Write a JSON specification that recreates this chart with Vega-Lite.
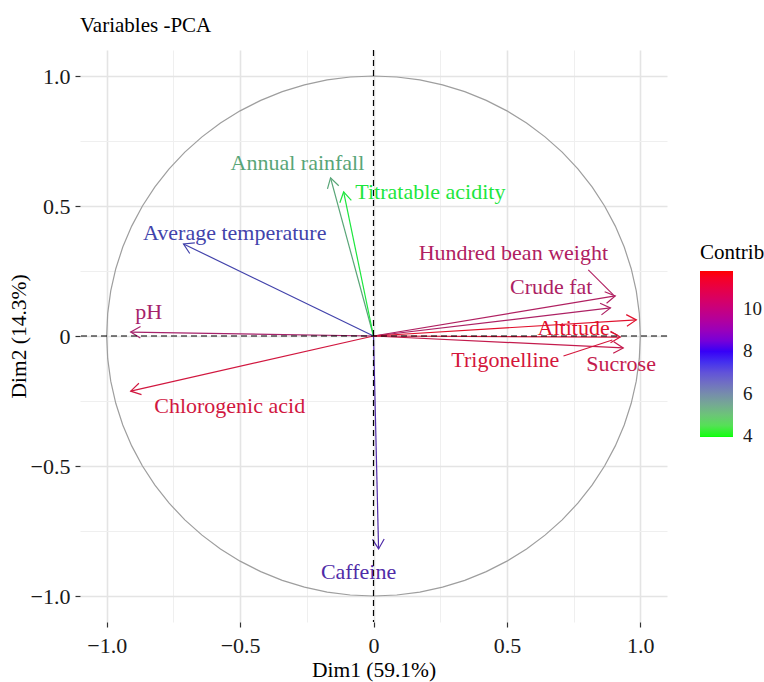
{
  "$schema": "https://vega.github.io/schema/vega-lite/v6.json",
  "width": 587,
  "height": 572,
  "autosize": {"type": "none"},
  "padding": {"left": 80, "top": 50, "right": 97, "bottom": 60},
  "background": "white",
  "config": {"view": {"stroke": null}, "font": "Liberation Serif"},
  "title": {"text": "Variables -PCA", "anchor": "start", "frame": "group", "offset": 13, "font": "Liberation Serif", "fontSize": 21, "fontWeight": "normal", "color": "#000000"},
  "datasets": {
    "vars": [
      {"name": "pH", "x": -0.910, "y": 0.015, "contrib": 10.0, "lx": -0.843, "ly": 0.092},
      {"name": "Chlorogenic acid", "x": -0.910, "y": -0.212, "contrib": 11.3, "lx": -0.539, "ly": -0.269},
      {"name": "Average temperature", "x": -0.712, "y": 0.354, "contrib": 7.4, "lx": -0.52, "ly": 0.396},
      {"name": "Annual rainfall", "x": -0.161, "y": 0.608, "contrib": 5.3, "lx": -0.285, "ly": 0.665},
      {"name": "Titratable acidity", "x": -0.112, "y": 0.554, "contrib": 3.95, "lx": 0.213, "ly": 0.554},
      {"name": "Caffeine", "x": 0.019, "y": -0.819, "contrib": 8.2, "lx": -0.056, "ly": -0.908},
      {"name": "Hundred bean weight", "x": 0.906, "y": 0.154, "contrib": 10.3, "lx": 0.524, "ly": 0.319, "sx": 0.805, "sy": 0.254, "ex": 0.899, "ey": 0.158},
      {"name": "Crude fat", "x": 0.888, "y": 0.108, "contrib": 10.2, "lx": 0.666, "ly": 0.188},
      {"name": "Altitude", "x": 0.985, "y": 0.062, "contrib": 11.8, "lx": 0.75, "ly": 0.031, "sx": 0.888, "sy": 0.015, "ex": 0.914, "ey": 0.004},
      {"name": "Trigonelline", "x": 0.925, "y": -0.004, "contrib": 11.4, "lx": 0.494, "ly": -0.092, "sx": 0.712, "sy": -0.077, "ex": 0.895, "ey": -0.015},
      {"name": "Sucrose", "x": 0.936, "y": -0.046, "contrib": 10.9, "lx": 0.928, "ly": -0.108}
    ],
    "circle": [
      {"a": 0, "cx": 1, "cy": 0}, {"a": 5, "cx": 0.9962, "cy": 0.0872}, {"a": 10, "cx": 0.9848, "cy": 0.1736}, {"a": 15, "cx": 0.9659, "cy": 0.2588},
      {"a": 20, "cx": 0.9397, "cy": 0.342}, {"a": 25, "cx": 0.9063, "cy": 0.4226}, {"a": 30, "cx": 0.866, "cy": 0.5}, {"a": 35, "cx": 0.8192, "cy": 0.5736},
      {"a": 40, "cx": 0.766, "cy": 0.6428}, {"a": 45, "cx": 0.7071, "cy": 0.7071}, {"a": 50, "cx": 0.6428, "cy": 0.766}, {"a": 55, "cx": 0.5736, "cy": 0.8192},
      {"a": 60, "cx": 0.5, "cy": 0.866}, {"a": 65, "cx": 0.4226, "cy": 0.9063}, {"a": 70, "cx": 0.342, "cy": 0.9397}, {"a": 75, "cx": 0.2588, "cy": 0.9659},
      {"a": 80, "cx": 0.1736, "cy": 0.9848}, {"a": 85, "cx": 0.0872, "cy": 0.9962}, {"a": 90, "cx": 0, "cy": 1}, {"a": 95, "cx": -0.0872, "cy": 0.9962},
      {"a": 100, "cx": -0.1736, "cy": 0.9848}, {"a": 105, "cx": -0.2588, "cy": 0.9659}, {"a": 110, "cx": -0.342, "cy": 0.9397}, {"a": 115, "cx": -0.4226, "cy": 0.9063},
      {"a": 120, "cx": -0.5, "cy": 0.866}, {"a": 125, "cx": -0.5736, "cy": 0.8192}, {"a": 130, "cx": -0.6428, "cy": 0.766}, {"a": 135, "cx": -0.7071, "cy": 0.7071},
      {"a": 140, "cx": -0.766, "cy": 0.6428}, {"a": 145, "cx": -0.8192, "cy": 0.5736}, {"a": 150, "cx": -0.866, "cy": 0.5}, {"a": 155, "cx": -0.9063, "cy": 0.4226},
      {"a": 160, "cx": -0.9397, "cy": 0.342}, {"a": 165, "cx": -0.9659, "cy": 0.2588}, {"a": 170, "cx": -0.9848, "cy": 0.1736}, {"a": 175, "cx": -0.9962, "cy": 0.0872},
      {"a": 180, "cx": -1, "cy": 0}, {"a": 185, "cx": -0.9962, "cy": -0.0872}, {"a": 190, "cx": -0.9848, "cy": -0.1736}, {"a": 195, "cx": -0.9659, "cy": -0.2588},
      {"a": 200, "cx": -0.9397, "cy": -0.342}, {"a": 205, "cx": -0.9063, "cy": -0.4226}, {"a": 210, "cx": -0.866, "cy": -0.5}, {"a": 215, "cx": -0.8192, "cy": -0.5736},
      {"a": 220, "cx": -0.766, "cy": -0.6428}, {"a": 225, "cx": -0.7071, "cy": -0.7071}, {"a": 230, "cx": -0.6428, "cy": -0.766}, {"a": 235, "cx": -0.5736, "cy": -0.8192},
      {"a": 240, "cx": -0.5, "cy": -0.866}, {"a": 245, "cx": -0.4226, "cy": -0.9063}, {"a": 250, "cx": -0.342, "cy": -0.9397}, {"a": 255, "cx": -0.2588, "cy": -0.9659},
      {"a": 260, "cx": -0.1736, "cy": -0.9848}, {"a": 265, "cx": -0.0872, "cy": -0.9962}, {"a": 270, "cx": 0, "cy": -1}, {"a": 275, "cx": 0.0872, "cy": -0.9962},
      {"a": 280, "cx": 0.1736, "cy": -0.9848}, {"a": 285, "cx": 0.2588, "cy": -0.9659}, {"a": 290, "cx": 0.342, "cy": -0.9397}, {"a": 295, "cx": 0.4226, "cy": -0.9063},
      {"a": 300, "cx": 0.5, "cy": -0.866}, {"a": 305, "cx": 0.5736, "cy": -0.8192}, {"a": 310, "cx": 0.6428, "cy": -0.766}, {"a": 315, "cx": 0.7071, "cy": -0.7071},
      {"a": 320, "cx": 0.766, "cy": -0.6428}, {"a": 325, "cx": 0.8192, "cy": -0.5736}, {"a": 330, "cx": 0.866, "cy": -0.5}, {"a": 335, "cx": 0.9063, "cy": -0.4226},
      {"a": 340, "cx": 0.9397, "cy": -0.342}, {"a": 345, "cx": 0.9659, "cy": -0.2588}, {"a": 350, "cx": 0.9848, "cy": -0.1736}, {"a": 355, "cx": 0.9962, "cy": -0.0872},
      {"a": 360, "cx": 1, "cy": 0}
    ],
    "one": [{"v": 0}]
  },
  "layer": [
    {
      "data": {"name": "circle"},
      "mark": {"type": "line", "color": "#9e9e9e", "strokeWidth": 1.2},
      "encoding": {
        "x": {"field": "cx", "type": "quantitative", "scale": {"domain": [-1.1, 1.1], "nice": false, "zero": false},
          "axis": {"title": "Dim1 (59.1%)", "values": [-1, -0.75, -0.5, -0.25, 0, 0.25, 0.5, 0.75, 1],
            "labelExpr": "abs(datum.value*2 - round(datum.value*2)) > 0.01 ? '' : (datum.value == 0 ? '0' : format(datum.value, '.1f'))",
            "grid": true,
            "gridColor": {"condition": {"test": "abs(datum.value*2 - round(datum.value*2)) > 0.01", "value": "#efefef"}, "value": "#e4e4e4"},
            "gridWidth": {"condition": {"test": "abs(datum.value*2 - round(datum.value*2)) > 0.01", "value": 1}, "value": 1.6},
            "tickColor": {"condition": {"test": "abs(datum.value*2 - round(datum.value*2)) > 0.01", "value": "transparent"}, "value": "#333333"},
            "domain": false, "tickSize": 5, "tickWidth": 1.2, "labelFlush": false, "labelOverlap": false,
            "labelFont": "Liberation Serif", "labelFontSize": 22, "labelColor": "#1a1a1a", "labelPadding": 8,
            "titleFont": "Liberation Serif", "titleFontSize": 21.5, "titleFontWeight": "normal", "titleColor": "#000000", "titlePadding": 3}},
        "y": {"field": "cy", "type": "quantitative", "scale": {"domain": [-1.1, 1.1], "nice": false, "zero": false},
          "axis": {"title": "Dim2 (14.3%)", "values": [-1, -0.75, -0.5, -0.25, 0, 0.25, 0.5, 0.75, 1],
            "labelExpr": "abs(datum.value*2 - round(datum.value*2)) > 0.01 ? '' : (datum.value == 0 ? '0' : format(datum.value, '.1f'))",
            "grid": true,
            "gridColor": {"condition": {"test": "abs(datum.value*2 - round(datum.value*2)) > 0.01", "value": "#efefef"}, "value": "#e4e4e4"},
            "gridWidth": {"condition": {"test": "abs(datum.value*2 - round(datum.value*2)) > 0.01", "value": 1}, "value": 1.6},
            "tickColor": {"condition": {"test": "abs(datum.value*2 - round(datum.value*2)) > 0.01", "value": "transparent"}, "value": "#333333"},
            "domain": false, "tickSize": 5, "tickWidth": 1.2, "labelFlush": false, "labelOverlap": false,
            "labelFont": "Liberation Serif", "labelFontSize": 22, "labelColor": "#1a1a1a", "labelPadding": 5,
            "titleFont": "Liberation Serif", "titleFontSize": 21.5, "titleFontWeight": "normal", "titleColor": "#000000", "titlePadding": 0}},
        "order": {"field": "a", "type": "quantitative"}
      }
    },
    {
      "data": {"name": "vars"},
      "mark": {"type": "point", "opacity": 0, "filled": true},
      "encoding": {
        "x": {"field": "x", "type": "quantitative"},
        "y": {"field": "y", "type": "quantitative"},
        "fill": {"field": "contrib", "type": "quantitative",
          "scale": {"domain": [3.95, 7.875, 11.8], "range": ["#00ff00", "#0000ff", "#ff0000"], "interpolate": "lab"},
          "legend": {"type": "gradient", "title": "Contrib", "orient": "none", "legendX": 620, "legendY": 192, "gradientLength": 166, "gradientThickness": 33,
            "values": [4, 6, 8, 10], "titleFont": "Liberation Serif", "titleFontSize": 21, "titleFontWeight": "normal", "titleColor": "#000000",
            "titlePadding": 8, "labelFont": "Liberation Serif", "labelFontSize": 19, "labelColor": "#1a1a1a", "labelOffset": 10, "gradientStrokeWidth": 0, "gradientOpacity": 1}}
      }
    },
    {
      "data": {"name": "vars"},
      "mark": {"type": "rule", "strokeWidth": 1.2},
      "encoding": {
        "x": {"field": "x", "type": "quantitative"},
        "y": {"field": "y", "type": "quantitative"},
        "x2": {"datum": 0},
        "y2": {"datum": 0},
        "color": {"field": "contrib", "type": "quantitative", "legend": null,
          "scale": {"domain": [3.9, 7.85, 11.8], "range": ["#12e83a", "#2c2cb4", "#e0102c"], "interpolate": "lab"}}
      }
    },
    {
      "data": {"name": "vars"},
      "transform": [{"calculate": "atan2(-datum.y*260, datum.x*267)*180/PI", "as": "ang"}],
      "mark": {"type": "point", "shape": "M -1 -0.6 L 0 0 L -1 0.6", "filled": false, "strokeWidth": 1.2, "size": 380, "opacity": 1},
      "encoding": {
        "x": {"field": "x", "type": "quantitative"},
        "y": {"field": "y", "type": "quantitative"},
        "angle": {"field": "ang", "type": "quantitative", "scale": null},
        "color": {"field": "contrib", "type": "quantitative", "legend": null}
      }
    },
    {
      "data": {"name": "vars"},
      "transform": [{"filter": "isValid(datum.sx)"}],
      "mark": {"type": "rule", "strokeWidth": 1.1},
      "encoding": {
        "x": {"field": "sx", "type": "quantitative"},
        "y": {"field": "sy", "type": "quantitative"},
        "x2": {"field": "ex"},
        "y2": {"field": "ey"},
        "color": {"field": "contrib", "type": "quantitative", "legend": null}
      }
    },
    {
      "data": {"name": "one"},
      "mark": {"type": "rule", "color": "#000000", "strokeWidth": 1.2, "strokeDash": [6, 4]},
      "encoding": {"y": {"datum": 0, "type": "quantitative"}}
    },
    {
      "data": {"name": "one"},
      "mark": {"type": "rule", "color": "#000000", "strokeWidth": 1.2, "strokeDash": [6, 4]},
      "encoding": {"x": {"datum": 0, "type": "quantitative"}}
    },
    {
      "data": {"name": "vars"},
      "mark": {"type": "text", "font": "Liberation Serif", "fontSize": 22, "align": "center", "baseline": "middle"},
      "encoding": {
        "x": {"field": "lx", "type": "quantitative"},
        "y": {"field": "ly", "type": "quantitative"},
        "text": {"field": "name"},
        "color": {"field": "contrib", "type": "quantitative", "legend": null}
      }
    }
  ]
}
